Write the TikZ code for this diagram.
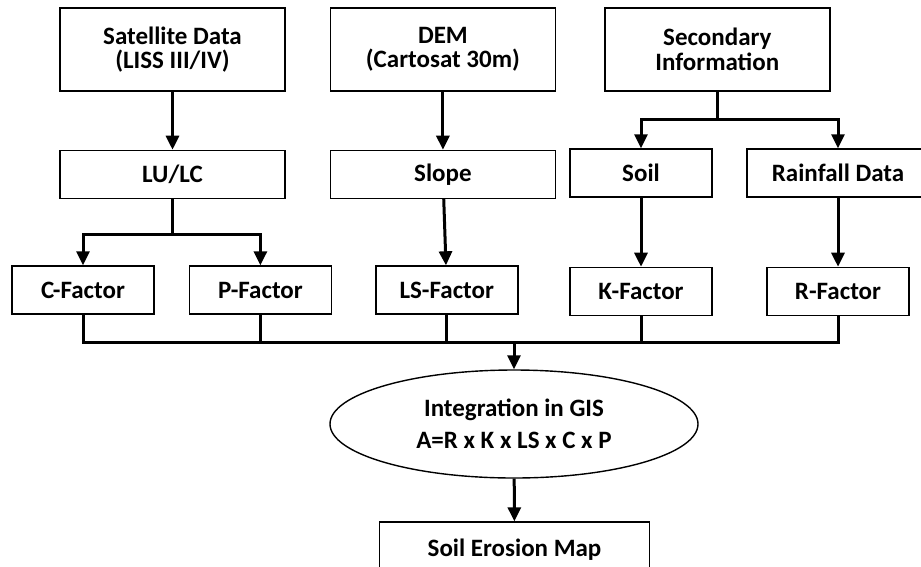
\documentclass[tikz,border=0pt]{standalone}
\usepackage{fontspec}
\setmainfont{Carlito}
\usetikzlibrary{arrows.meta, positioning, shapes.geometric}

\begin{document}
\begin{tikzpicture}[
  x=1pt, y=-1pt,
  node distance=58pt and 44pt,
  box/.style={rectangle, draw, line width=1.4pt, align=center, inner sep=0pt,
              minimum width=225pt, minimum height=83pt,
              font=\bfseries\fontsize{25}{24.5}\selectfont},
  small/.style={box, minimum width=142pt, minimum height=48pt},
  oval/.style={ellipse, draw, line width=1.4pt, align=center, inner sep=0pt,
               minimum width=368pt, minimum height=108pt,
               font=\bfseries\fontsize{25}{32}\selectfont},
  arr/.style={-{Triangle[length=14pt, width=13pt]}, line width=3pt},
  bus/.style={line width=3pt, line join=miter}
]
\clip (0,0) rectangle (921,566);

% Inputs
\node[box] (sat) at (172.5,49.5) {Satellite Data\\(LISS III/IV)};
\node[box, right=44pt of sat] (dem) {DEM\\(Cartosat 30m)};
\node[box, right=48pt of dem] (sec) {Secondary\\Information};

% Derived layers
\node[box, minimum height=48pt, below=58pt of sat] (lulc) {LU/LC};
\node[box, minimum height=48pt, below=58pt of dem] (slope) {Slope};
\node[small] (soil) at (641,173) {Soil};
\node[small, minimum width=182pt] (rain) at (838,173) {Rainfall Data};

% Factors
\node[small] (cfac) at (83,290) {C-Factor};
\node[small, right=34pt of cfac] (pfac) {P-Factor};
\node[small, right=43pt of pfac] (lsfac) {LS-Factor};
\node[small, below=69pt of soil] (kfac) {K-Factor};
\node[small, below=69pt of rain] (rfac) {R-Factor};

% Model and output
\node[oval] (gis) at (514,424) {Integration in GIS\\A=R x K x LS x C x P};
\node[box, minimum width=270pt, minimum height=56pt] (map) at (514.5,550) {Soil Erosion Map};

\draw[arr] (sat) -- (lulc);
\draw[arr] (dem) -- (slope);
\draw[arr] (sec.south) -- ++(0,28) -| (soil);
\draw[arr] (sec.south) -- ++(0,28) -| (rain);
\draw[arr] (lulc.south) -- ++(0,35) -| (cfac);
\draw[arr] (lulc.south) -- ++(0,35) -| (pfac);
\draw[arr] (slope) -- (lsfac);
\draw[arr] (soil) -- (kfac);
\draw[arr] (rain) -- (rfac);

% Collector line
\draw[bus] (cfac.south) -- ++(0,28) coordinate (busl) -| (rfac.south);
\foreach \n in {pfac,lsfac,kfac}
  \draw[bus] (\n.south) -- (\n.south |- busl);
\draw[arr] (gis.north |- busl) -- (gis);
\draw[arr] (gis) -- (map);

\end{tikzpicture}
\end{document}
